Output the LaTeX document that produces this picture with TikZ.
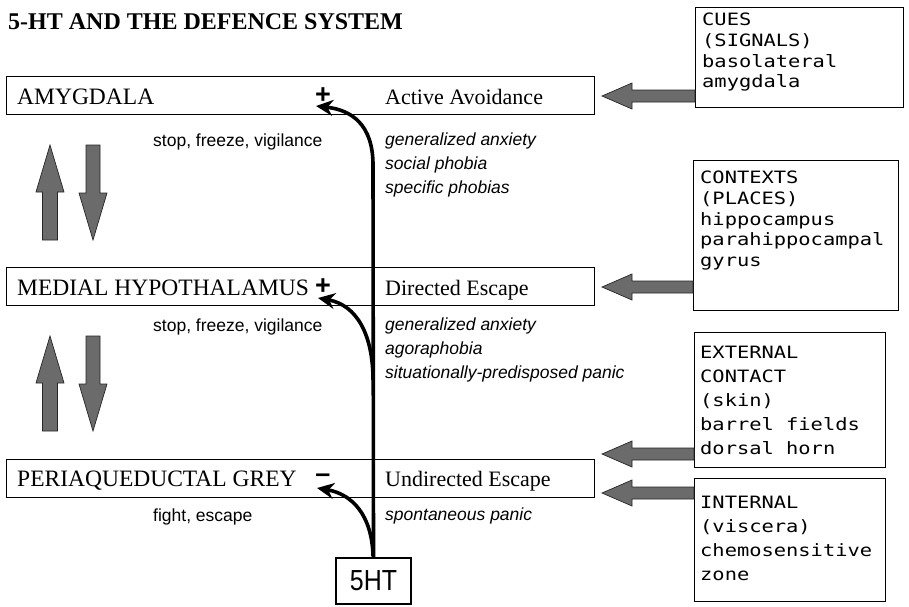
\documentclass[tikz,border=0pt]{standalone}
\usepackage{fontspec}
\setmainfont{Liberation Serif}
\setsansfont{Liberation Sans}
\newfontfamily\monof[FakeStretch=1.2]{DejaVu Sans Mono}
\usetikzlibrary{arrows.meta}

\tikzset{
  rowbox/.style={draw, line width=0.9pt, inner sep=0, minimum width=588pt, minimum height=38pt},
  rowlabel/.style={font=\fontsize{22}{26}\selectfont, inner sep=0, anchor=base west},
  caplabel/.style={rowlabel, font=\fontsize{23.5}{26}\selectfont},
  sidebox/.style={draw, line width=1.1pt, inner sep=0, anchor=north west},
  sidetext/.style={font=\monof\fontsize{17}{20.7}\selectfont, align=left, inner sep=0, anchor=north west},
  sidetextwide/.style={font=\monof\fontsize{17}{24}\selectfont, align=left, inner sep=0, anchor=north west},
  beh/.style={font=\sffamily\fontsize{17.5}{24}\selectfont, inner sep=0, anchor=base west},
  dis/.style={font=\sffamily\itshape\fontsize{17.5}{24}\selectfont, align=left, inner sep=0, anchor=north west},
  sign/.style={font=\sffamily\bfseries\fontsize{27}{27}\selectfont, inner sep=0},
  blockarrow/.style={draw=black!85, fill=black!58, line width=0.7pt, line join=miter},
  serotonin/.style={line width=3.6pt, -{Stealth[length=17pt,width=16pt]}},
}

% grey block arrow pointing left: tip x, centre y, tail x
\newcommand\leftblockarrow[3]{%
  \draw[blockarrow] (#1,#2) -- (#1+30,#2-13) -- (#1+30,#2-6) -- (#3,#2-6)
    -- (#3,#2+6) -- (#1+30,#2+6) -- (#1+30,#2+13) -- cycle;}

\begin{document}
\begin{tikzpicture}[x=1pt, y=-1pt]
\useasboundingbox (0,0) rectangle (909,606);

% title
\node[font=\bfseries\fontsize{24}{28}\selectfont, inner sep=0, anchor=base west] (title) at (8,29)
  {5-HT AND THE DEFENCE SYSTEM};

% the three levels of the defence system
\node[rowbox] (amyrow) at (300,95.5) {};
\node[rowbox] (mhrow)  at (300,286.5) {};
\node[rowbox] (pagrow) at (300,478) {};

\node[caplabel] (amy) at (17,104) {AMYGDALA};
\node[caplabel] (mh)  at (17,295) {MEDIAL HYPOTHALAMUS};
\node[caplabel] (pag) at (17,486) {PERIAQUEDUCTAL GREY};

\node[rowlabel] (amyact) at (385,104) {Active Avoidance};
\node[rowlabel] (mhact)  at (385,295) {Directed Escape};
\node[rowlabel] (pagact) at (385,486) {Undirected Escape};

\node[sign] (amyplus)  at (323,96) {+};
\node[sign] (mhplus)   at (323,287) {+};
\node[sign] (pagminus) at (323,478) {\textendash};

% behaviours and disorders
\node[beh] (beh1) at (153,146) {stop, freeze, vigilance};
\node[beh] (beh2) at (153,331) {stop, freeze, vigilance};
\node[beh] (beh3) at (153,521) {fight, escape};

\node[dis] (dis1) at (385,133) {generalized anxiety\\social phobia\\specific phobias};
\node[dis] (dis2) at (385,318) {generalized anxiety\\agoraphobia\\situationally-predisposed panic};
\node[dis] (dis3) at (385,508) {spontaneous panic};

% up/down arrows between the levels
\foreach \dy in {0,191} {
  \begin{scope}[shift={(0,\dy)}]
    \draw[blockarrow] (50,145) -- (64,192) -- (57.5,192) -- (57.5,240)
      -- (42.5,240) -- (42.5,192) -- (36,192) -- cycle;
    \draw[blockarrow] (93,240) -- (107,193) -- (100,193) -- (100,145)
      -- (86,145) -- (86,193) -- (79,193) -- cycle;
  \end{scope}
}

% serotonin input
\node[draw, line width=1.1pt, minimum width=75pt, minimum height=46pt, inner sep=0,
  font=\sffamily\fontsize{29}{29}\selectfont] (ht) at (373.5,581) {\scalebox{0.86}[1]{5HT}};

\coordinate (amytip) at (316,106);
\coordinate (mhtip)  at (318,298);
\coordinate (pagtip) at (317,488);
\coordinate (mhfork) at (373,380);
\coordinate (pagfork) at (373,556);

\draw[serotonin] (ht.north) -- (373,165) .. controls (373,125) and (352,110) .. (amytip);
\draw[serotonin] (mhfork) .. controls (373,335) and (357,305) .. (mhtip);
\draw[serotonin] (pagfork) .. controls (372,515) and (352,494) .. (pagtip);

% sensory inputs
\node[sidebox, minimum width=208pt, minimum height=100pt] (cues) at (695,7) {};
\node[sidetext] (cuestext) at (702,13) {CUES\\(SIGNALS)\\basolateral\\amygdala};

\node[sidebox, minimum width=205pt, minimum height=150pt] (ctx) at (693,160) {};
\node[sidetext] (ctxtext) at (700,171) {CONTEXTS\\(PLACES)\\hippocampus\\parahippocampal\\gyrus};

\node[sidebox, minimum width=191pt, minimum height=135pt] (ext) at (694,332) {};
\node[sidetextwide] (exttext) at (700,346) {EXTERNAL\\CONTACT\\(skin)\\barrel fields\\dorsal horn};

\node[sidebox, minimum width=191pt, minimum height=123pt] (int) at (694,478) {};
\node[sidetextwide] (inttext) at (700,496) {INTERNAL\\(viscera)\\chemosensitive\\zone};

\leftblockarrow{602}{96}{695}
\leftblockarrow{602}{287}{693}
\leftblockarrow{602}{454}{694}
\leftblockarrow{602}{493}{694}

\end{tikzpicture}
\end{document}
